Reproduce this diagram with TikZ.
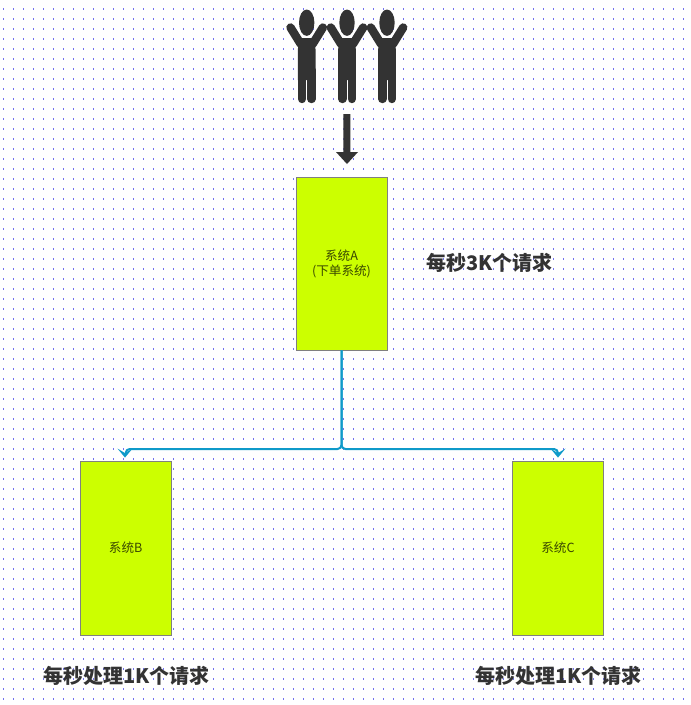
\documentclass[tikz,border=0pt]{standalone}
\usepackage{fontspec}
\setmainfont{Noto Sans CJK SC}
\definecolor{lime}{HTML}{CCFF00}
\definecolor{ink}{HTML}{333333}
\definecolor{linkc}{HTML}{0F9AC9}
\definecolor{dotc}{HTML}{7070F0}
\tikzset{
  sysbox/.style={draw=black!50,line width=.9pt,fill=lime,minimum width=91pt,inner sep=0pt,text=black!72!lime,font=\fontsize{12.6}{15}\selectfont,align=center},
  big/.style={font=\fontsize{20}{22}\bfseries\selectfont,text=ink,inner sep=0pt},
  linkline/.style={draw=linkc,line width=2pt,rounded corners=4pt},
  linktip/.style={fill=linkc,draw=none},
  person/.style={draw=ink,line cap=round},
}
\newcommand{\manicon}[1]{%
  \begin{scope}[shift={(#1,0)}]
    \fill[ink] (0,22.7) ellipse (7.7 and 13.2);
    \fill[ink] (-7.5,38) -- (7.5,38) -- (8.9,50) -- (8.9,80) -- (-8.9,80) -- (-8.9,50) -- cycle;
    \draw[person,line width=8.4pt] (-4.7,70) -- (-4.7,99);
    \draw[person,line width=8.4pt] (4.7,70) -- (4.7,99);
    \draw[person,line width=8.4pt] (-6,44) -- (-16.2,27.5);
    \draw[person,line width=8.4pt] (6,44) -- (16.2,27.5);
  \end{scope}}
\begin{document}
\begin{tikzpicture}[x=1pt,y=-1pt]
\useasboundingbox (0,0) rectangle (691,705);
\fill[white] (0,0) rectangle (691,705);
\foreach \i in {0,...,68}{
  \foreach \j in {0,...,69}{
    \fill[dotc] (2.9+10*\i,8.4+10*\j) rectangle +(1.5,1.5);
  }
}
\manicon{306.7}
\manicon{347}
\manicon{387}
\fill[ink] (343.4,114) -- (350.4,114) -- (350.4,152) -- (358,152) -- (347,164) -- (336,152) -- (343.4,152) -- cycle;
\node[sysbox,minimum height=173pt] (a) at (341.5,263.5) {系统A\\(下单系统)};
\node[sysbox,minimum height=174pt] (b) at (125.7,548) {系统B};
\node[sysbox,minimum height=174pt] (c) at (558,548) {系统C};
\node[big,anchor=west] (la) at (426,263) {每秒3K个请求};
\node[big,anchor=west] (lb) at (43,676) {每秒处理1K个请求};
\node[big,anchor=west] (lc) at (475,676) {每秒处理1K个请求};
\coordinate (yline) at (0,449);
\coordinate (ytip) at (0,453);
\coordinate (j) at (a.south |- yline);
\draw[linkline] (a.south) -- (j) -- (j -| b.north) -- (b.north |- ytip);
\draw[linkline] (a.south) -- (j) -- (j -| c.north) -- (c.north |- ytip);
\fill[linktip] (b.north) ++(-0.7,-3) -- ++(-7.5,-9) -- ++(7.5,4.5) -- ++(7.5,-4.5) -- cycle;
\fill[linktip] (c.north) ++(0,-3) -- ++(-7.5,-9) -- ++(7.5,4.5) -- ++(7.5,-4.5) -- cycle;
\end{tikzpicture}
\end{document}
